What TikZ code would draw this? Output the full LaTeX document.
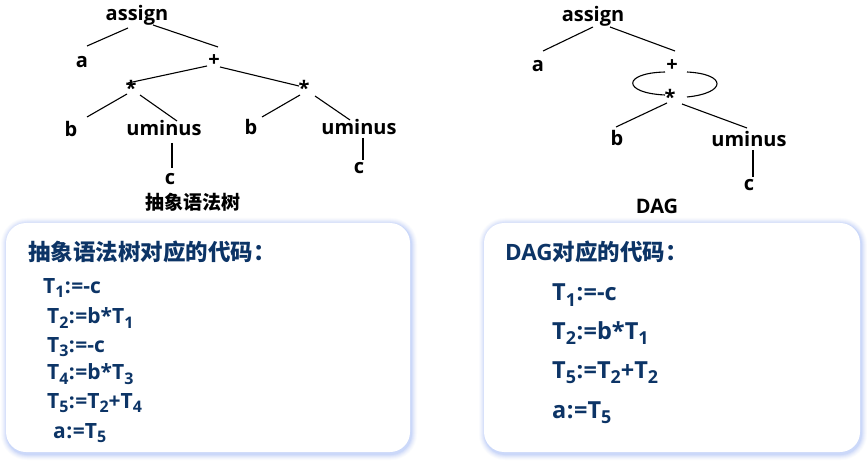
\documentclass[tikz,border=0pt]{standalone}
\usepackage{fontspec}
\setmainfont{Open Sans}
\newfontfamily\cjk{Noto Sans CJK SC}
\definecolor{navy}{RGB}{12,52,102}
\definecolor{glow}{RGB}{140,170,245}
\newcommand{\tsb}[1]{\raisebox{-0.42ex}{\fontsize{0.76em}{0.76em}\selectfont #1}}
\newcommand{\asg}{\kern0.5pt:\kern0.5pt=}
\begin{document}
\begin{tikzpicture}[x=1pt,y=-1pt,
  tn/.style={inner sep=0pt,font=\fontsize{20}{20}\selectfont\bfseries,text=black},
  ed/.style={line width=1.1pt,black},
  codebox/.style={fill=white,rounded corners=20pt},
  codetext/.style={inner sep=0pt,anchor=west,text=navy},
  lcode/.style={codetext,font=\fontsize{21}{21}\selectfont\bfseries},
  rcode/.style={codetext,font=\fontsize{23.5}{23.5}\selectfont\bfseries}]
\useasboundingbox[fill=white] (0,0) rectangle (867,462);
% ---------- left tree ----------
\node[tn] (assign) at (137,15) {assign};
\node[tn] (a) at (82,62) {a};
\node[tn] (plus) at (214,61) {+};
\node[tn] (mL) at (131,88) {*};
\node[tn] (mR) at (304,88) {*};
\node[tn] (bL) at (71,129) {b};
\node[tn] (uL) at (164,128) {uminus};
\node[tn] (bR) at (251,127) {b};
\node[tn] (uR) at (359,127) {uminus};
\node[tn] (cL) at (170,179) {c};
\node[tn] (cR) at (359,168) {c};
\node[inner sep=0pt,font=\cjk\bfseries\fontsize{19}{19}\selectfont] (cap1) at (193,202) {抽象语法树};
\draw[ed] ([shift={(-9,13)}]assign.center) -- ([shift={(5,-16)}]a.center);
\draw[ed] ([shift={(16,10)}]assign.center) -- ([shift={(4,-14)}]plus.center);
\draw[ed] ([shift={(-7,5)}]plus.center) -- ([shift={(-3,-5)}]mL.center);
\draw[ed] ([shift={(6,6)}]plus.center) -- ([shift={(-5,-2)}]mR.center);
\draw[ed] ([shift={(-4,6)}]mL.center) -- ([shift={(16,-12)}]bL.center);
\draw[ed] ([shift={(9,7)}]mL.center) -- ([shift={(13,-7)}]uL.center);
\draw[ed] ([shift={(-4,7)}]mR.center) -- ([shift={(11,-10)}]bR.center);
\draw[ed] ([shift={(11,8)}]mR.center) -- ([shift={(-9,-7)}]uR.center);
\draw[ed] ([shift={(8,15)}]uL.center) -- ([shift={(2,-11)}]cL.center);
\draw[ed] ([shift={(4,11)}]uR.center) -- ([shift={(4,-8)}]cR.center);
% ---------- right DAG ----------
\node[tn] (dassign) at (593,16) {assign};
\node[tn] (da) at (538,66) {a};
\node[tn] (dplus) at (672,66) {+};
\node[tn] (dm) at (670,97) {*};
\node[tn] (db) at (617,138) {b};
\node[tn] (du) at (749,139) {uminus};
\node[tn] (dc) at (749,185) {c};
\node[inner sep=0pt,font=\fontsize{20}{20}\selectfont\bfseries] (cap2) at (657,206) {DAG};
\draw[ed] ([shift={(0,11)}]dassign.center) -- ([shift={(5,-15)}]da.center);
\draw[ed] ([shift={(17,11)}]dassign.center) -- ([shift={(3,-15)}]dplus.center);
\draw[ed] ([shift={(-7,6)}]dplus.center) .. controls ([shift={(-50,7)}]dplus.center) and ([shift={(-48,-4)}]dm.center) .. ([shift={(-5,-2)}]dm.center);
\draw[ed] ([shift={(15,6)}]dplus.center) .. controls ([shift={(55,8)}]dplus.center) and ([shift={(57,-4)}]dm.center) .. ([shift={(17,0)}]dm.center);
\draw[ed] ([shift={(-3,6)}]dm.center) -- ([shift={(-1,-11)}]db.center);
\draw[ed] ([shift={(12,7)}]dm.center) -- ([shift={(-2,-11)}]du.center);
\draw[ed] ([shift={(4,11)}]du.center) -- ([shift={(4,-8)}]dc.center);
% ---------- code boxes ----------
\foreach \xa/\xb in {6/410,484/860}{
  \foreach \i/\op in {6/0.04,5/0.05,4/0.07,3/0.09,2/0.12,1/0.16}{
    \fill[glow,opacity=\op,rounded corners=20pt+\i pt]
      (\xa-\i+1,223-\i+1) rectangle (\xb+\i+1,452+\i+2);
  }
  \fill[codebox] (\xa,223) rectangle (\xb,452);
}
\node[codetext,font=\cjk\bfseries\fontsize{22.5}{22.5}\selectfont] (t1) at (28,252) {抽象语法树对应的代码：};
\node[lcode] (l1) at (43,288) {T\tsb{1}\asg-c};
\node[lcode] (l2) at (47,318) {T\tsb{2}\asg b*T\tsb{1}};
\node[lcode] (l3) at (47,347) {T\tsb{3}\asg-c};
\node[lcode] (l4) at (47,374) {T\tsb{4}\asg b*T\tsb{3}};
\node[lcode] (l5) at (47,403) {T\tsb{5}\asg T\tsb{2}+T\tsb{4}};
\node[lcode] (l6) at (53,433) {a\asg T\tsb{5}};
\node[codetext,font=\fontsize{22.5}{22.5}\selectfont\bfseries] (t2) at (505,252) {DAG{\cjk 对应的代码：}};
\node[rcode] (r1) at (552,295) {T\tsb{1}\asg-c};
\node[rcode] (r2) at (552,333) {T\tsb{2}\asg b*T\tsb{1}};
\node[rcode] (r3) at (552,373) {T\tsb{5}\asg T\tsb{2}+T\tsb{2}};
\node[rcode] (r4) at (552,413) {a\asg T\tsb{5}};
\end{tikzpicture}
\end{document}
